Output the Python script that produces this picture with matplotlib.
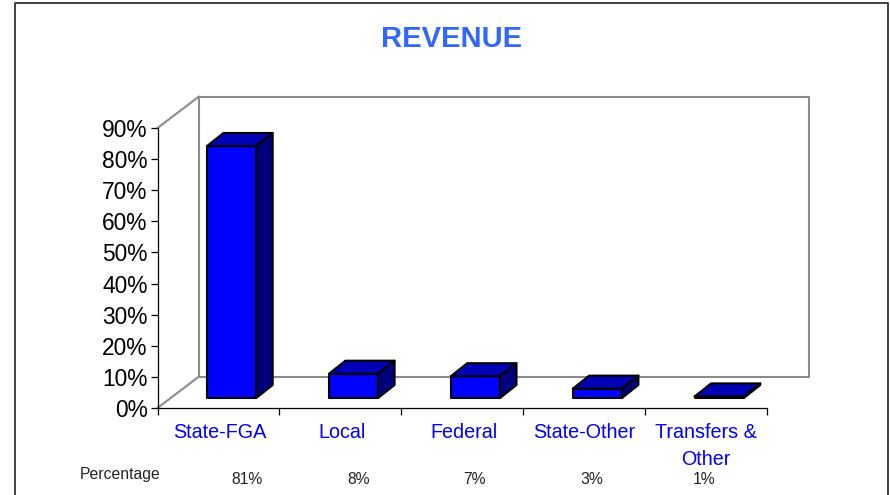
import matplotlib
matplotlib.use("Agg")
from matplotlib import pyplot as plt
from matplotlib.patches import Polygon
from matplotlib.lines import Line2D

plt.rcParams["font.family"] = ["Liberation Sans", "DejaVu Sans"]

categories = ["State-FGA", "Local", "Federal", "State-Other", "Transfers &\nOther"]
bar_values = [81, 7.8, 7, 3, 0.5]
percent_labels = ["81%", "8%", "7%", "3%", "1%"]
y_ticks = [0, 10, 20, 30, 40, 50, 60, 70, 80, 90]

W, H = 890, 495
fig = plt.figure(figsize=(W / 100, H / 100), dpi=100)

# front plane of the 3d box, in pixels
left, right, top, bottom = 157.5, 767, 128, 408
ax = fig.add_axes([left / W, 1 - bottom / H, (right - left) / W, (bottom - top) / H])
ax.set_xlim(0, 5)
ax.set_ylim(0, 90)
ax.patch.set_visible(False)

# depth of box and bars in data units
box_dx = 41.5 / (right - left) * 5
box_dy = 31.5 / (bottom - top) * 90
bar_shift_x = 0.108
bar_shift_y = 3.2
bar_width = 0.404
bar_dx = 0.135
bar_dy = 4.2

# back wall and side lines
grey = "#8c8c8c"
ax.plot([0, box_dx, box_dx], [90, 90 + box_dy, box_dy], color=grey, lw=1.5, clip_on=False, zorder=1)
ax.plot([box_dx, 5 + box_dx, 5 + box_dx, box_dx], [90 + box_dy, 90 + box_dy, box_dy, box_dy],
        color=grey, lw=1.5, clip_on=False, zorder=1)
ax.plot([0, box_dx], [0, box_dy], color=grey, lw=1.5, clip_on=False, zorder=1)

# bars, each drawn as front, top and side faces
for i, v in enumerate(bar_values):
    x0 = i + 0.5 - bar_width / 2 + bar_shift_x
    x1 = x0 + bar_width
    y0 = bar_shift_y
    y1 = y0 + v
    front = [(x0, y0), (x1, y0), (x1, y1), (x0, y1)]
    roof = [(x0, y1), (x1, y1), (x1 + bar_dx, y1 + bar_dy), (x0 + bar_dx, y1 + bar_dy)]
    side = [(x1, y0), (x1 + bar_dx, y0 + bar_dy), (x1 + bar_dx, y1 + bar_dy), (x1, y1)]
    for pts, col in [(front, "#0000ff"), (roof, "#0000b4"), (side, "#00007f")]:
        ax.add_patch(Polygon(pts, closed=True, facecolor=col, edgecolor="black", lw=1.5,
                             joinstyle="round", clip_on=False, zorder=3))

# axes
for name in ["top", "right"]:
    ax.spines[name].set_visible(False)
for name in ["left", "bottom"]:
    ax.spines[name].set_linewidth(0.9)
    ax.spines[name].set_zorder(2)

ax.set_yticks(y_ticks)
ax.set_yticklabels([f"{t}%" for t in y_ticks], fontsize=16.4, color="black")
ax.tick_params(axis="y", length=5, width=0.9, pad=2.2)

ax.set_xticks(range(6))
ax.set_xticklabels([])
ax.tick_params(axis="x", which="major", length=5, width=0.9)
label_pos = [0.51, 1.51, 2.515, 3.5, 4.5]
ax.set_xticks(label_pos, minor=True)
ax.set_xticklabels(categories, minor=True, fontsize=14.2, color="#0000ff", linespacing=1.5)
ax.tick_params(axis="x", which="minor", length=0, pad=11)

# title and percentage row
fig.text(452 / W, 1 - 39 / H, "REVENUE", ha="center", va="center", fontsize=21,
         fontweight="bold", color="#3366ff")
fig.text(120 / W, 1 - 475 / H, "Percentage", ha="center", va="center", fontsize=11.3, color="#222222")
percent_x = [247, 359, 474, 592, 704]
for px, label in zip(percent_x, percent_labels):
    fig.text(px / W, 1 - 479 / H, label, ha="center", va="center", fontsize=11.3, color="#222222")

# outer frame, open at the bottom
frame = Line2D([15.5 / W, 15.5 / W, 888 / W, 888 / W],
               [0, 1 - 2.5 / H, 1 - 2.5 / H, 0],
               transform=fig.transFigure, color="#333333", lw=1.3)
fig.add_artist(frame)

fig.savefig("out.png", dpi=100)
